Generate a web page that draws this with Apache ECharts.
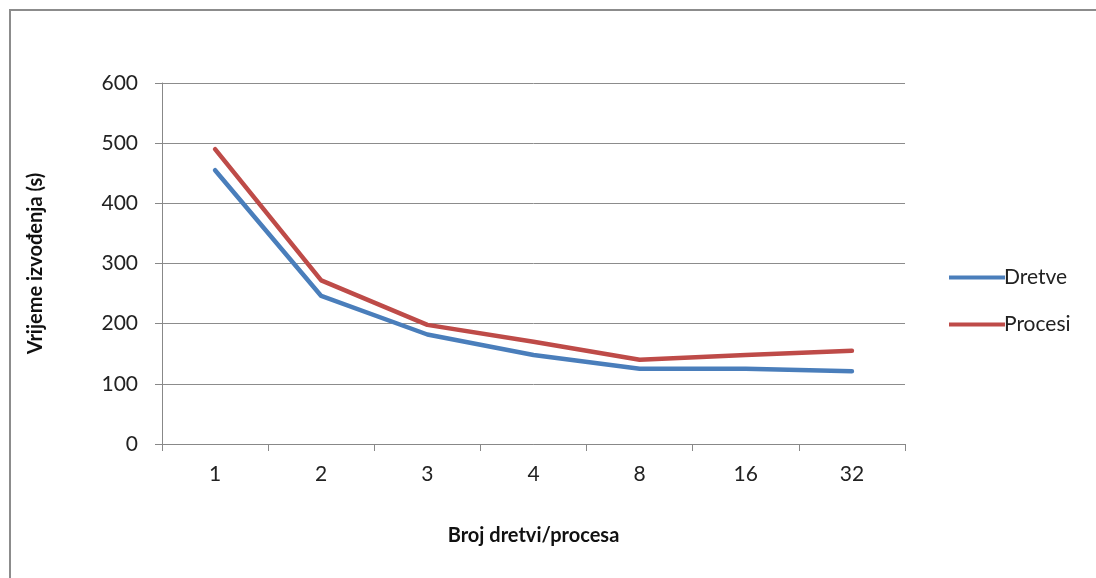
<!DOCTYPE html>
<html><head><meta charset="utf-8">
<script src="https://cdn.jsdelivr.net/npm/echarts@6/dist/echarts.min.js"></script>
<style>html,body{margin:0;padding:0;background:#fff}#c{width:1096px;height:578px}</style>
</head><body><div id="c"></div>
<script>
const categories = ['1','2','3','4','8','16','32'];
const dretve = [455, 246, 182, 148, 125, 125, 121];
const procesi = [490, 272, 198, 170, 140, 148, 155];
const seriesNames = ['Dretve','Procesi'];
const colors = ['#4a7ebb','#be4b48'];
const FONT = 'Lato';
const chart = echarts.init(document.getElementById('c'));
chart.setOption({
  animation:false,
  textStyle:{fontFamily:FONT},
  graphic:[{type:'rect',shape:{x:10,y:10,width:1200,height:700},style:{fill:'none',stroke:'#8c8c8c',lineWidth:2}}],
  grid:{left:162,right:191,top:83,bottom:134},
  legend:{
    orient:'vertical',left:944,top:262,itemGap:26,itemWidth:56,itemHeight:4,
    icon:'rect',
    textStyle:{fontFamily:FONT,fontSize:21,color:'#222',padding:[0,0,0,-6]},
    data:seriesNames
  },
  xAxis:{
    type:'category',data:categories,boundaryGap:true,
    name:'Broj dretvi/procesa',nameLocation:'middle',nameGap:82,
    nameTextStyle:{fontFamily:FONT,fontSize:20,fontWeight:'bold',color:'#111'},
    axisLine:{lineStyle:{color:'#888',width:1}},
    axisTick:{show:true,length:7,lineStyle:{color:'#888'},alignWithLabel:false},
    axisLabel:{fontFamily:FONT,fontSize:21,color:'#222',margin:20}
  },
  yAxis:{
    type:'value',min:0,max:600,interval:100,
    name:'Vrijeme izvođenja (s)',nameLocation:'middle',nameGap:116,nameRotate:90,
    nameTextStyle:{fontFamily:FONT,fontSize:20,fontWeight:'bold',color:'#111'},
    axisLine:{show:true,lineStyle:{color:'#888',width:1}},
    axisTick:{show:true,length:7,lineStyle:{color:'#888'}},
    axisLabel:{fontFamily:FONT,fontSize:21,color:'#222',margin:24},
    splitLine:{lineStyle:{color:'#8c8c8c',width:1}}
  },
  series:[
    {name:seriesNames[0],type:'line',data:dretve,symbol:'none',color:colors[0],lineStyle:{width:4.5,color:colors[0],cap:'round'}},
    {name:seriesNames[1],type:'line',data:procesi,symbol:'none',color:colors[1],lineStyle:{width:4.5,color:colors[1],cap:'round'}}
  ]
});
</script></body></html>
